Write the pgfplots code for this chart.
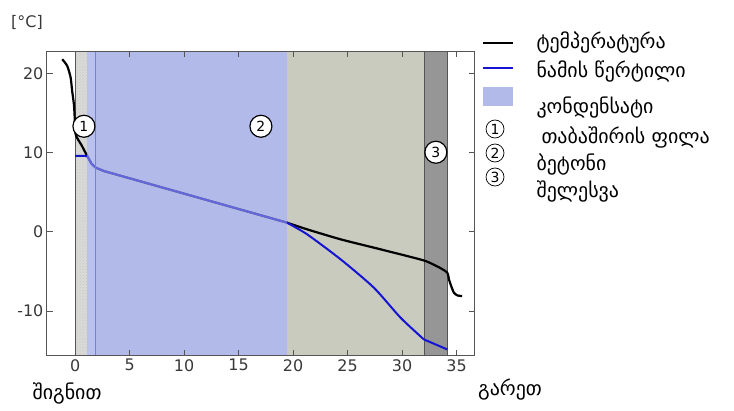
\documentclass[border=0pt]{standalone}
\usepackage{fontspec}
\setmainfont{DejaVu Sans}
\usepackage{pgfplots}
\pgfplotsset{compat=1.18}
\usetikzlibrary{patterns}

\definecolor{condens}{RGB}{178,186,234}
\definecolor{condensedge}{RGB}{196,202,240}
\definecolor{gypsum}{RGB}{218,218,214}
\definecolor{concrete}{RGB}{201,203,191}
\definecolor{plaster}{RGB}{150,150,150}
\definecolor{dewblue}{RGB}{20,20,210}
\definecolor{axisgray}{RGB}{85,85,85}
\definecolor{edgeblue}{RGB}{120,130,210}

\begin{document}
\begin{tikzpicture}[x=1bp,y=1bp]
\path (0,0) rectangle (734,410);
\begin{axis}[
  at={(43,68.5)}, anchor=south west,
  width=428bp, height=304.5bp, scale only axis,
  xmin=-2.59, xmax=36.68, ymin=-15.65, ymax=22.78,
  xtick={0,5,...,35}, ytick={-10,0,10,20},
  tick align=inside, major tick length=6bp,
  axis line style={axisgray, line width=0.9bp},
  every tick/.style={axisgray, line width=0.9bp},
  tick label style={font=\fontsize{16}{18}\selectfont, text=black!78},
  /pgf/number format/assume math mode=true,
  axis on top,
]
% wall layers: gypsum board, concrete (condensation zone first), plaster
\addplot[draw=none, fill=gypsum] coordinates {(0,-15.65) (0,22.78) (1.11,22.78) (1.11,-15.65)} --cycle;
\addplot[draw=none, pattern=crosshatch dots, pattern color=gray!45] coordinates {(0,-15.65) (0,22.78) (1.11,22.78) (1.11,-15.65)} --cycle;
\addplot[draw=none, fill=condensedge] coordinates {(1.11,-15.65) (1.11,22.78) (1.88,22.78) (1.88,-15.65)} --cycle;
\addplot[draw=none, fill=condens] coordinates {(1.88,-15.65) (1.88,22.78) (19.43,22.78) (19.43,-15.65)} --cycle;
\addplot[draw=none, fill=concrete] coordinates {(19.43,-15.65) (19.43,22.78) (32.09,22.78) (32.09,-15.65)} --cycle;
\addplot[draw=none, fill=plaster] coordinates {(32.09,-15.65) (32.09,22.78) (34.17,22.78) (34.17,-15.65)} --cycle;
% layer boundaries
\addplot[axisgray, line width=1bp] coordinates {(0,-15.65) (0,22.78)};
\addplot[axisgray, line width=0.8bp] coordinates {(32.09,-15.65) (32.09,22.78)};
\addplot[axisgray, line width=0.8bp] coordinates {(34.17,-15.65) (34.17,22.78)};

% temperature
\addplot[black, line width=2.2bp, smooth, tension=0.4] coordinates {
  (-1.18,21.77) (-0.72,20.92) (-0.41,19.46) (-0.27,17.77) (-0.11,16.09) (-0.05,14.82)
  (0.05,12.3) (0.6,10.9) (1.11,9.56)
};
\addplot[black, line width=2.2bp] coordinates {
  (1.11,9.56) (1.5,8.6) (1.88,8.09) (2.64,7.66) (19.43,1.15)
};
\addplot[black, line width=2.2bp, smooth, tension=0.4] coordinates {
  (19.43,1.15) (21.29,0.30) (24.36,-0.96) (27.41,-2.01) (30.47,-3.07) (32.16,-3.70)
  (33.4,-4.5) (34.14,-5.16) (34.3,-6.0) (34.45,-6.64) (34.75,-7.69) (35.1,-8.05) (35.51,-8.12)
};

% dew point
\addplot[dewblue, line width=2bp] coordinates {
  (0,9.56) (1.11,9.56) (1.5,8.6) (1.88,8.09) (2.64,7.66) (19.43,1.15)
};
\addplot[dewblue, line width=2bp, smooth, tension=0.4] coordinates {
  (19.43,1.15) (21.29,-0.33) (24.36,-3.48) (27.41,-7.06) (29.86,-10.85) (32.0,-13.59)
};
\addplot[dewblue, line width=2bp] coordinates {(32.0,-13.59) (34.14,-14.85)};

% condensation zone over the curves
\addplot[draw=none, fill=condens, fill opacity=0.5] coordinates {(1.11,-15.65) (1.11,22.78) (19.43,22.78) (19.43,-15.65)} --cycle;
\addplot[edgeblue, line width=0.8bp] coordinates {(1.88,-15.65) (1.88,22.78)};

% layer numbers
\node[circle, draw=black, line width=1.2bp, fill=white, inner sep=0pt, minimum size=22bp,
      font=\fontsize{14}{16}\selectfont] at (axis cs:0.81,13.31) {1};
\node[circle, draw=black, line width=1.2bp, fill=white, inner sep=0pt, minimum size=22bp,
      font=\fontsize{14}{16}\selectfont] at (axis cs:17.05,13.31) {2};
\node[circle, draw=black, line width=1.2bp, fill=white, inner sep=0pt, minimum size=22bp,
      font=\fontsize{14}{16}\selectfont] at (axis cs:33.1,10.03) {3};
\end{axis}

% unit
\node[font=\fontsize{16}{18}\selectfont, text=black!78] at (27,388) {[°C]};
% sides of the wall
\node[font=\fontsize{20}{23}\selectfont] at (67,17) {შიგნით};
\node[font=\fontsize{20}{23}\selectfont] at (510,20) {გარეთ};

% legend
\draw[black, line width=2.4bp] (483,367) -- (513,367);
\draw[dewblue, line width=2bp] (483,342) -- (513,342);
\fill[condens] (483,304) rectangle (513,323);
\foreach \n/\yy in {1/281,2/257,3/233}
  \node[circle, draw=black, line width=0.7bp, inner sep=0pt, minimum size=18bp,
        font=\fontsize{14}{16}\selectfont] at (495,\yy) {\n};
\begin{scope}[every node/.style={anchor=west, font=\fontsize{20}{23}\selectfont}]
\node at (533,367) {ტემპერატურა};
\node at (533,338) {ნამის წერტილი};
\node at (533,302) {კონდენსატი};
\node at (538,272) {თაბაშირის ფილა};
\node at (533,245) {ბეტონი};
\node at (533,218) {შელესვა};
\end{scope}
\end{tikzpicture}
\end{document}
